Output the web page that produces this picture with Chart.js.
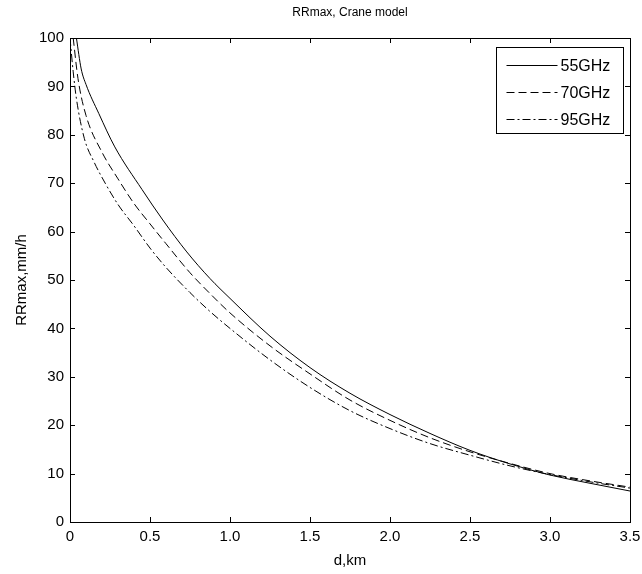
<!DOCTYPE html>
<html>
<head>
<meta charset="utf-8">
<script src="https://cdn.jsdelivr.net/npm/chart.js@4/dist/chart.umd.min.js"></script>
<style>
  body { margin: 0; background: #fff; }
  canvas { display: block; }
</style>
</head>
<body>
<canvas id="rrChart" width="642" height="574"></canvas>
<script>
// distances (km) and max rain rate (mm/h)
const dist55 = [0.04, 0.07, 0.1, 0.18, 0.28, 0.45, 0.58, 0.73, 0.875, 1.0, 1.25, 1.5, 1.75, 2.0, 2.25, 2.5, 2.75, 3.0, 3.25, 3.5];
const rr55 = [100, 93.6, 90.4, 84.4, 77.5, 68.7, 62.4, 55.8, 50.3, 46.2, 38.4, 31.9, 26.6, 22.2, 18.3, 14.8, 12.0, 9.7, 8.0, 6.4];

const dist70 = [0.02, 0.05, 0.1, 0.2, 0.3, 0.4, 0.5, 0.6, 0.75, 0.875, 1.0, 1.25, 1.5, 1.75, 2.0, 2.25, 2.5, 2.75, 3.0, 3.25, 3.5];
const rr70 = [100, 91.6, 84.0, 76.4, 70.9, 65.8, 61.6, 57.5, 51.5, 47.2, 43.2, 36.4, 30.6, 25.2, 21.0, 17.4, 14.5, 12.1, 10.0, 8.5, 7.2];

const dist95 = [0, 0.02, 0.04, 0.09, 0.15, 0.22, 0.3, 0.4, 0.5, 0.6, 0.75, 0.875, 1.0, 1.25, 1.5, 1.75, 2.0, 2.25, 2.5, 2.75, 3.0, 3.25, 3.5];
const rr95 = [100, 93, 87.5, 79.2, 74.4, 70.0, 65.6, 61.2, 56.6, 52.6, 47.4, 43.5, 40.0, 33.5, 27.8, 23.0, 19.3, 16.2, 13.8, 11.6, 9.8, 8.3, 7.0];

const seriesNames = ['55GHz', '70GHz', '95GHz'];
const dashes = [[], [8, 4], [8, 3, 2, 3]];

const FONT = '"Liberation Sans", Arial, Helvetica, sans-serif';

function toPoints(xs, ys) {
  return xs.map((x, i) => ({ x: x, y: ys[i] }));
}

// matlab style box, inward ticks and legend
const matlabAxes = {
  id: 'matlabAxes',
  afterDraw(chart) {
    const ctx = chart.ctx;
    const a = chart.chartArea;
    const xs = chart.scales.x, ys = chart.scales.y;
    const tl = 5;
    ctx.save();
    ctx.strokeStyle = '#000';
    ctx.lineWidth = 1;
    ctx.beginPath();
    xs.ticks.forEach(t => {
      const px = Math.round(xs.getPixelForValue(t.value)) + 0.5;
      ctx.moveTo(px, a.bottom); ctx.lineTo(px, a.bottom - tl);
      ctx.moveTo(px, a.top); ctx.lineTo(px, a.top + tl);
    });
    ys.ticks.forEach(t => {
      const py = Math.round(ys.getPixelForValue(t.value)) + 0.5;
      ctx.moveTo(a.left, py); ctx.lineTo(a.left + tl, py);
      ctx.moveTo(a.right, py); ctx.lineTo(a.right - tl, py);
    });
    ctx.stroke();
    ctx.strokeRect(Math.round(a.left) + 0.5, Math.round(a.top) + 0.5,
      Math.round(a.right - a.left), Math.round(a.bottom - a.top));

    // legend box
    const bx = Math.round(a.right) - 134 + 0.5, by = Math.round(a.top) + 9 + 0.5;
    const bw = 127, bh = 86;
    ctx.fillStyle = '#fff';
    ctx.fillRect(bx, by, bw, bh);
    ctx.strokeRect(bx, by, bw, bh);
    ctx.font = '16px ' + FONT;
    ctx.textBaseline = 'middle';
    ctx.textAlign = 'left';
    seriesNames.forEach((name, i) => {
      const ly = Math.round(by + 17 + i * 27) + 0.5;
      ctx.setLineDash(dashes[i]);
      ctx.beginPath();
      ctx.moveTo(bx + 10, ly);
      ctx.lineTo(bx + 61, ly);
      ctx.stroke();
      ctx.setLineDash([]);
      ctx.fillStyle = '#000';
      ctx.fillText(name, bx + 64, ly + 1);
    });
    ctx.restore();
  }
};

const ctx = document.getElementById('rrChart');
new Chart(ctx, {
  type: 'line',
  data: {
    datasets: [
      { label: seriesNames[0], data: toPoints(dist55, rr55), borderDash: dashes[0], borderColor: '#000', backgroundColor: '#000' },
      { label: seriesNames[1], data: toPoints(dist70, rr70), borderDash: dashes[1], borderColor: '#000', backgroundColor: '#000' },
      { label: seriesNames[2], data: toPoints(dist95, rr95), borderDash: dashes[2], borderColor: '#000', backgroundColor: '#000' }
    ]
  },
  options: {
    responsive: false,
    animation: false,
    datasets: {
      line: {
        borderWidth: 1,
        pointRadius: 0,
        fill: false,
        cubicInterpolationMode: 'monotone'
      }
    },
    layout: { padding: { left: 0, right: 12, top: 0, bottom: 0 } },
    plugins: {
      legend: { display: false },
      tooltip: { enabled: false },
      colors: { enabled: false }
    },
    scales: {
      x: {
        type: 'linear',
        min: 0,
        max: 3.5,
        ticks: { stepSize: 0.5, color: '#000', padding: 6, maxRotation: 0,
          font: { family: FONT, size: 15 } },
        grid: { display: false, drawTicks: false },
        border: { display: false },
        title: { display: true, text: 'd,km', color: '#000',
          font: { family: FONT, size: 15 }, padding: { top: 0, bottom: 4 } },
        afterFit(scale) { scale.height = 52; scale.paddingLeft = 0; scale.paddingRight = 0; }
      },
      // top axis only carries the plot title, centred over the plot box
      top: {
        type: 'linear',
        position: 'top',
        min: 0,
        max: 3.5,
        ticks: { display: false },
        grid: { display: false, drawTicks: false },
        border: { display: false },
        title: { display: true, text: 'RRmax, Crane model', color: '#000',
          font: { family: FONT, size: 12 }, padding: { top: 5, bottom: 0 } },
        afterFit(scale) { scale.height = 38; scale.paddingLeft = 0; scale.paddingRight = 0; }
      },
      y: {
        min: 0,
        max: 100,
        ticks: { stepSize: 10, color: '#000', padding: 6,
          font: { family: FONT, size: 15 } },
        grid: { display: false, drawTicks: false },
        border: { display: false },
        title: { display: true, text: 'RRmax,mm/h', color: '#000',
          font: { family: FONT, size: 15 }, padding: { top: 13, bottom: 0 } },
        afterFit(scale) { scale.width = 70; }
      }
    }
  },
  plugins: [matlabAxes]
});
</script>
</body>
</html>
